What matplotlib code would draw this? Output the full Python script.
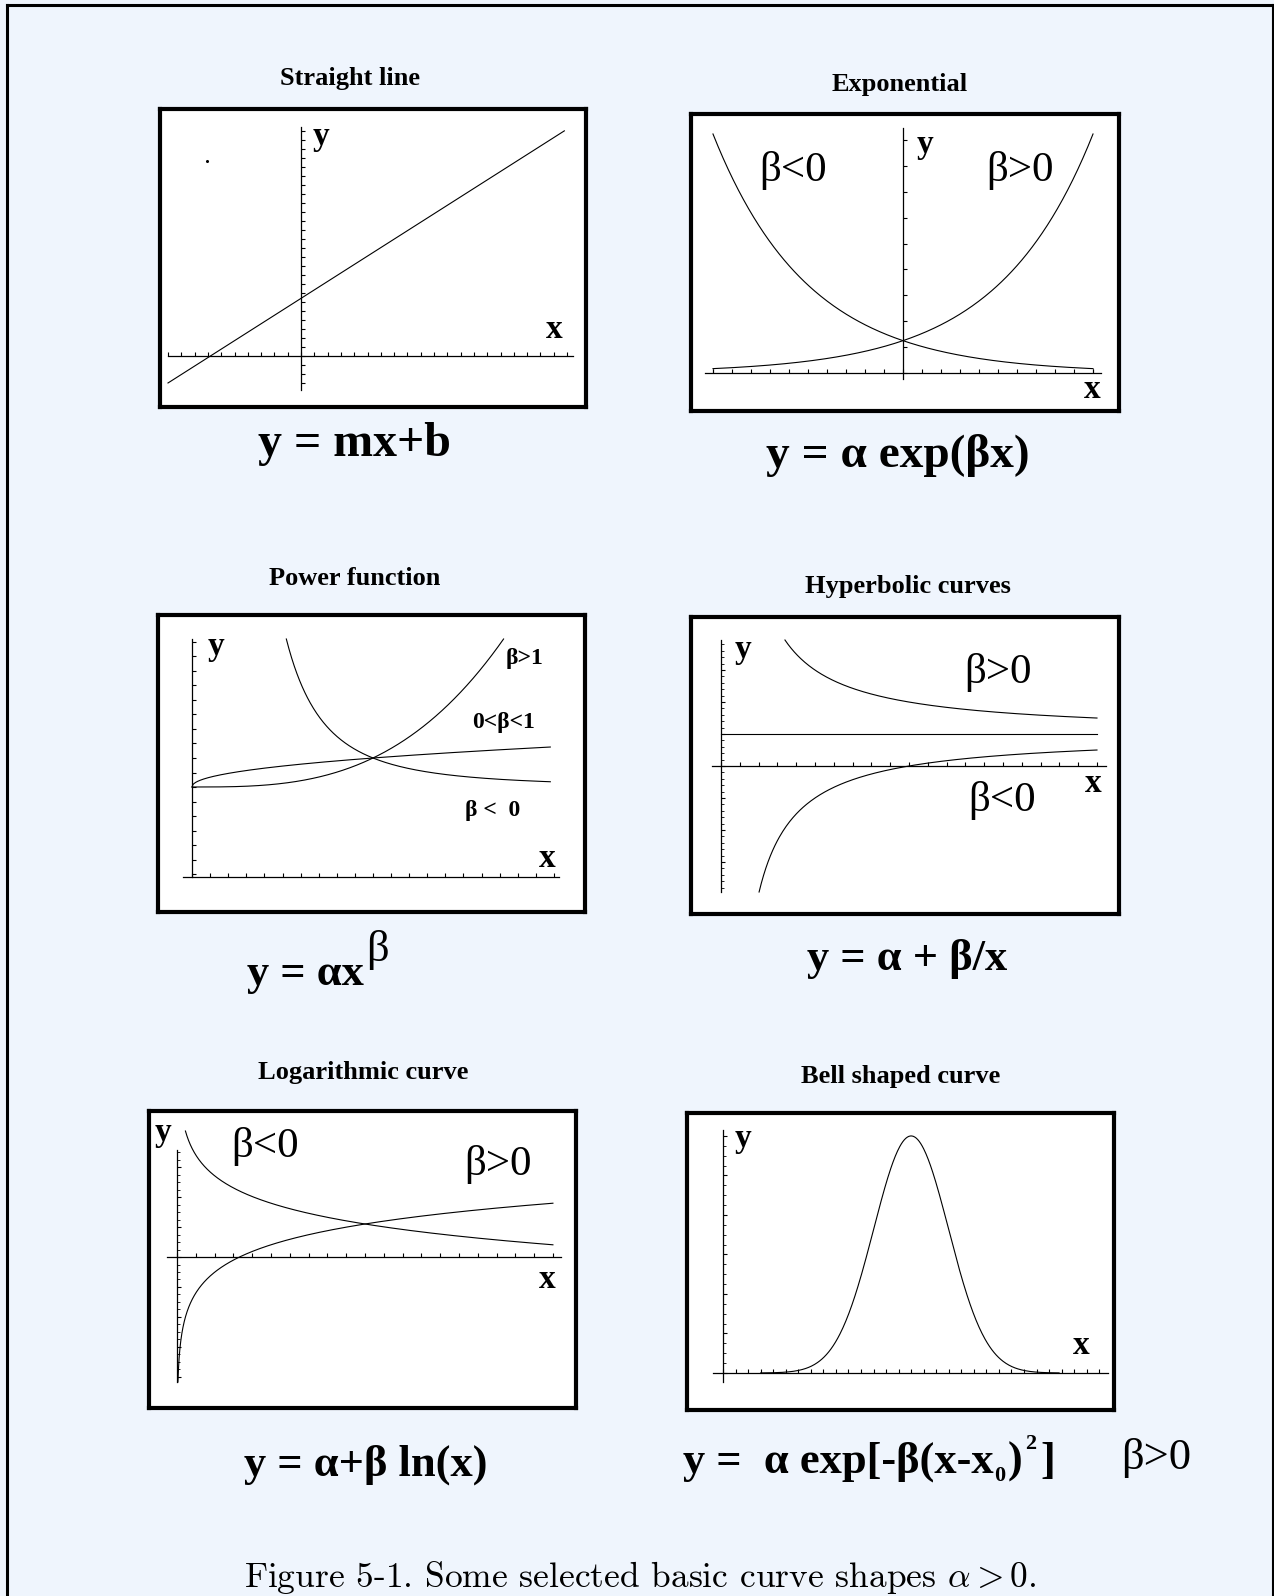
import numpy as np
import matplotlib.pyplot as plt
from matplotlib.lines import Line2D
from matplotlib.ticker import MultipleLocator

W, H = 1274, 1596
BG = "#eff5fd"
SERIF = "Liberation Serif"

# straight line  y = m x + b
line_x = [-1.0, 1.98]
line_m, line_b = 0.94, 0.64
speck = [-0.71, 2.17]

# exponential  y = a exp(b x)
exp_alpha = 1.0
exp_betas = [1.0, -1.0]
exp_xmax = 2.0

# power function  y = a x^b
pow_alpha = 1.0
pow_betas = [3.0, 0.47, -2.5]
pow_xmax = 1.98

# hyperbolic  y = a + b / x
hyp_alpha = 1.0
hyp_betas = [1.0, -1.0]
hyp_xmax = 2.0

# logarithmic  y = a + b ln(x)
log_alpha = 1.1
log_betas = [1.0, -1.0]
log_xmax = 2.0

# bell  y = a exp(-b (x - x0)^2)
bell_alpha, bell_beta, bell_x0 = 1.2, 1.4, 3.0
bell_x = [0.6, 5.36]

titles = ["Straight line", "Exponential", "Power function",
          "Hyperbolic curves", "Logarithmic curve", "Bell shaped curve"]

plt.rcParams["font.family"] = SERIF
fig = plt.figure(figsize=(W / 100, H / 100), dpi=100, facecolor=BG)


def rect(l, r, t, b):
    return [l / W, 1 - b / H, (r - l) / W, (b - t) / H]


def frame(l, r, t, b):
    ax = fig.add_axes(rect(l, r, t, b))
    ax.set_facecolor("white")
    ax.set_xticks([])
    ax.set_yticks([])
    for s in ax.spines.values():
        s.set_linewidth(3)
    return ax


def plot_axes(l, r, t, b, xlim, ylim, x0, y0, xstep, ystep, yminor=None):
    ax = fig.add_axes(rect(l, r, t, b))
    ax.patch.set_visible(False)
    ax.set_xlim(xlim)
    ax.set_ylim(ylim)
    ax.spines["top"].set_visible(False)
    ax.spines["right"].set_visible(False)
    ax.spines["left"].set_position(("data", x0))
    ax.spines["bottom"].set_position(("data", y0))
    for s in ("left", "bottom"):
        ax.spines[s].set_linewidth(0.9)
    ax.xaxis.set_major_locator(MultipleLocator(xstep))
    ax.yaxis.set_major_locator(MultipleLocator(ystep))
    if yminor:
        ax.yaxis.set_minor_locator(MultipleLocator(yminor))
    ax.tick_params(which="major", direction="in", length=3, width=0.8,
                   labelbottom=False, labelleft=False)
    ax.tick_params(which="minor", direction="in", length=2, width=0.6)
    return ax


def label(x, y, s, size=24, weight="bold", **kw):
    fig.text(x / W, 1 - y / H, s, fontsize=size, fontweight=weight,
             ha="center", va="center", **kw)


def formula(cx, base, parts):
    # parts: (text, size, weight, rise in px, gap after in px)
    rend = fig.canvas.get_renderer()
    items, total = [], 0
    for s, size, weight, rise, gap in parts:
        t = fig.text(0, 0, s, fontsize=size, fontweight=weight,
                     ha="left", va="baseline")
        w = t.get_window_extent(rend).width
        items.append((t, w, rise, gap))
        total += w + gap
    x = cx - total / 2
    for t, w, rise, gap in items:
        t.set_position((x / W, 1 - (base - rise) / H))
        x += w + gap


kw = dict(color="black", lw=0.8, clip_on=False)
TITLE = 19

# --- straight line
frame(160, 586, 109, 407)
ax = plot_axes(168, 573, 127, 390, (-1.0, 2.045), (-0.378, 2.544), 0, 0, 0.1, 0.1)
lx = np.array(line_x)
ax.plot(lx, line_m * lx + line_b, **kw)
ax.plot(*speck, marker="o", ms=1.2, color="black")
label(321, 137, "y")
label(554, 329, "x")
label(350, 79, titles[0], size=TITLE)
formula(354, 456, [("y = mx+b", 34.5, "bold", 0, 0)])

# --- exponential
frame(691, 1119, 114, 411)
ax = plot_axes(705, 1101, 128, 379, (-2.084, 2.084), (-0.185, 7.574), 0, 0, 0.2, 0.8)
ex = np.linspace(-exp_xmax, exp_xmax, 300)
for b in exp_betas:
    ax.plot(ex, exp_alpha * np.exp(b * ex), **kw)
ax.vlines([-exp_xmax, exp_xmax], 0, exp_alpha * np.exp(-exp_xmax), color="black", lw=0.8)
label(925, 145, "y")
label(1092, 390, "x")
label(793, 170, "β<0", size=31, weight="normal")
label(1020, 170, "β>0", size=31, weight="normal")
label(900, 84, titles[1], size=TITLE)
formula(898, 467, [("y = α exp(βx)", 34, "bold", 0, 0)])

# --- power function
frame(158, 585, 615, 912)
ylim = (-3.103, 5.103)
ax = plot_axes(183, 559, 639, 877, (-0.05, 2.028), ylim, 0, ylim[0], 0.1, 0.5)
for b in pow_betas:
    if b > 0:
        hi = min(pow_xmax, ylim[1] ** (1 / b))
        px = np.linspace(0, hi, 400)
    else:
        lo = ylim[1] ** (1 / b)
        px = np.linspace(lo, pow_xmax, 400)
    ax.plot(px, pow_alpha * px ** b, **kw)
label(216, 647, "y")
label(547, 858, "x")
label(525, 659, "β>1", size=17)
label(504, 723, "0<β<1", size=17)
label(493, 810, "β <  0", size=17)
label(355, 579, titles[2], size=TITLE)
formula(318, 985, [("y = αx", 32, "bold", 0, 2), ("β", 32, "normal", 24, 0)])

# --- hyperbolic
frame(691, 1119, 617, 914)
ylim = (-3.94, 3.94)
ax = plot_axes(712, 1106, 640, 892, (-0.048, 2.048), ylim, 0, 0, 0.1, 1, 0.2)
ax.plot([0, hyp_xmax], [hyp_alpha, hyp_alpha], **kw)
for b in hyp_betas:
    edge = ylim[1] if b > 0 else ylim[0]
    lo = b / (edge - hyp_alpha)
    hx = np.linspace(lo, hyp_xmax, 300)
    ax.plot(hx, hyp_alpha + b / hx, **kw)
label(743, 649, "y")
label(1093, 784, "x")
label(998, 673, "β>0", size=31, weight="normal")
label(1002, 801, "β<0", size=31, weight="normal")
label(908, 586, titles[3], size=TITLE)
formula(907, 970, [("y = α + β/x", 32, "bold", 0, 0)])

# --- logarithmic
frame(149, 576, 1111, 1408)
ylim = (-4.167, 3.567)
ax = plot_axes(167, 561, 1150, 1382, (-0.053, 2.043), ylim, 0, 0, 0.1, 1, 0.25)
for b in log_betas:
    if b > 0:
        lo = np.exp((ylim[0] - log_alpha) / b)
    else:
        lo = np.exp((4.2 - log_alpha) / b)
    lg = np.geomspace(lo, log_xmax, 400)
    ax.plot(lg, log_alpha + b * np.log(lg), **kw)
label(163, 1132, "y")
label(547, 1279, "x")
label(265, 1147, "β<0", size=31, weight="normal")
label(498, 1165, "β>0", size=31, weight="normal")
label(363, 1073, titles[4], size=TITLE)
formula(366, 1476, [("y = α+β ln(x)", 32, "bold", 0, 0)])

# --- bell shaped
frame(687, 1114, 1113, 1410)
ax = plot_axes(713, 1108, 1130, 1382, (-0.16, 6.14), (-0.0456, 1.23), 0, 0, 0.2, 0.2, 0.05)
bx = np.linspace(bell_x[0], bell_x[1], 400)
ax.plot(bx, bell_alpha * np.exp(-bell_beta * (bx - bell_x0) ** 2), **kw)
label(743, 1139, "y")
label(1081, 1346, "x")
label(901, 1077, titles[5], size=TITLE)
formula(869, 1473, [("y =  α exp[-β(x-x", 32, "bold", 0, 0),
                    ("0", 16, "bold", -8, 3),
                    (")", 32, "bold", 0, 2),
                    ("2", 16, "bold", 24, 4),
                    ("]", 32, "bold", 0, 0)])
label(1156, 1458, "β>0", size=32, weight="normal")

# caption
fig.text(640 / W, 1 - 1578 / H, "Figure 5-1. Some selected basic curve shapes $\\alpha > 0$.",
         family="cmr10", math_fontfamily="cm", fontsize=25.5, ha="center", va="center")

# page border
fig.add_artist(Line2D([7 / W, 7 / W], [0, 1 - 5 / H], transform=fig.transFigure, color="black", lw=2.2))
fig.add_artist(Line2D([7 / W, 1272.5 / W], [1 - 5 / H, 1 - 5 / H], transform=fig.transFigure, color="black", lw=2.2))
fig.add_artist(Line2D([1272.5 / W, 1272.5 / W], [0, 1 - 5 / H], transform=fig.transFigure, color="black", lw=1.5))

fig.savefig("out.png", dpi=100, facecolor=BG)
